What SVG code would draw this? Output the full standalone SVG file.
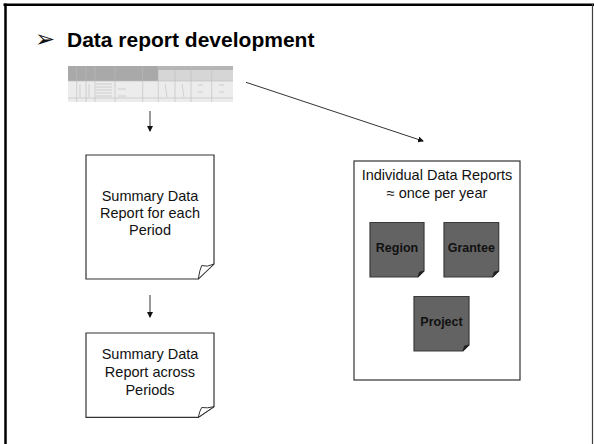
<svg xmlns="http://www.w3.org/2000/svg" width="594" height="444" viewBox="0 0 594 444">
<style>
.frame{stroke:#000;fill:none}
.doc{fill:#fff;stroke:#333;stroke-width:1.2}
.fold{fill:#fff;stroke:#333;stroke-width:1}
.lbl{font-family:"Liberation Sans",Arial,sans-serif;font-size:14.5px;fill:#111;text-anchor:middle}
.dk{fill:#636363;stroke:#3a3a3a;stroke-width:1.2}
.dkfold{fill:#222;stroke:#222;stroke-width:0.8}
.dlbl{font-family:"Liberation Sans",Arial,sans-serif;font-size:12.5px;font-weight:bold;fill:#111;text-anchor:middle}
.con{stroke:#333;stroke-width:1;fill:none;marker-end:url(#ah)}
.grid{stroke:#bdbdbd;stroke-width:0.6}
</style>
<defs>
<marker id="ah" markerWidth="6" markerHeight="6" refX="5" refY="3" orient="auto" markerUnits="userSpaceOnUse">
<path d="M0,0 L6,3 L0,6 Z" fill="#111"/>
</marker>
</defs>
<rect width="594" height="444" fill="#fff"/>
<g id="frame">
<line x1="3.5" y1="4.7" x2="594" y2="4.7" stroke="#000" stroke-width="2.5"/>
<line x1="5.5" y1="3.5" x2="5.5" y2="444" stroke="#000" stroke-width="2.5"/>
<line x1="592.5" y1="4" x2="592.5" y2="444" stroke="#404040" stroke-width="1.2"/>
</g>
<g id="title">
<text x="35" y="47" font-family="DejaVu Sans,sans-serif" font-size="24" fill="#111">➢</text>
<text x="67" y="47" font-family="Liberation Sans,Arial,sans-serif" font-size="21" font-weight="bold" fill="#000">Data report development</text>
</g>
<g id="spreadsheet">
<rect x="68" y="66" width="165" height="36" fill="#ececec"/>
<rect x="68" y="66" width="90" height="15" fill="#a9a9a9"/>
<rect x="158" y="66" width="75" height="15" fill="#d6d6d6"/>
<rect x="158" y="66" width="75" height="4" fill="#b5b5b5"/>
<g class="grid">
<line x1="76.7" y1="66" x2="76.7" y2="102"/>
<line x1="86" y1="66" x2="86" y2="102"/>
<line x1="95" y1="66" x2="95" y2="102"/>
<line x1="115" y1="66" x2="115" y2="102"/>
<line x1="142.7" y1="66" x2="142.7" y2="102"/>
<line x1="158.3" y1="66" x2="158.3" y2="102"/>
<line x1="175" y1="70" x2="175" y2="102"/>
<line x1="191" y1="66" x2="191" y2="102"/>
<line x1="211.7" y1="70" x2="211.7" y2="102"/>
<line x1="68" y1="81" x2="233" y2="81"/>
<line x1="68" y1="98" x2="233" y2="98"/>
</g>
<g stroke="#c8c8c8" stroke-width="0.8">
<line x1="96" y1="84" x2="112" y2="84"/><line x1="96" y1="87" x2="112" y2="87"/><line x1="96" y1="90" x2="112" y2="90"/><line x1="96" y1="93" x2="112" y2="93"/><line x1="96" y1="96" x2="112" y2="96"/>
<line x1="118" y1="89" x2="126" y2="89"/><line x1="118" y1="96" x2="126" y2="96"/>
<line x1="165" y1="84" x2="167" y2="97"/><line x1="182" y1="84" x2="184" y2="97"/>
<line x1="198" y1="85" x2="203" y2="85"/><line x1="198" y1="92" x2="203" y2="92"/>
<line x1="219" y1="85" x2="224" y2="85"/><line x1="219" y1="92" x2="224" y2="92"/>
<line x1="80" y1="84" x2="80" y2="97"/><line x1="89" y1="84" x2="89" y2="97"/>
</g>
</g>
<g id="connectors">
<line class="con" x1="150" y1="111" x2="150" y2="131"/>
<line class="con" x1="150" y1="295" x2="150" y2="317"/>
<line class="con" x1="246" y1="82.3" x2="423" y2="141"/>
</g>
<g id="summary-period">
<path class="doc" d="M86,155 H214 V264 L198.3,279 H86 Z"/>
<path class="fold" d="M198.3,279 Q199.5,270 201.7,265.5 Q207,267.5 214,264 Z"/>
<text class="lbl" x="150" y="201">Summary Data</text>
<text class="lbl" x="150" y="218">Report for each</text>
<text class="lbl" x="150" y="235">Period</text>
</g>
<g id="summary-across">
<path class="doc" d="M86,333 H214 V406.7 L198.3,417.3 H86 Z"/>
<path class="fold" d="M198.3,417.3 Q199.5,411 201.7,407.5 Q207,408.5 214,406.7 Z"/>
<text class="lbl" x="150" y="359">Summary Data</text>
<text class="lbl" x="150" y="377">Report across</text>
<text class="lbl" x="150" y="395">Periods</text>
</g>
<g id="individual">
<rect x="354" y="161" width="166" height="219" fill="#fff" stroke="#333" stroke-width="1.2"/>
<text class="lbl" x="437" y="180">Individual Data Reports</text>
<text class="lbl" x="437" y="198">≈ once per year</text>
</g>
<g id="region">
<path class="dk" d="M370,222.5 H424 V271 L418,277 H370 Z"/>
<path class="dkfold" d="M418,277 L419.5,272 L424,271 Z"/>
<text class="dlbl" x="397" y="252">Region</text>
</g>
<g id="grantee">
<path class="dk" d="M444,222.5 H498.7 V271 L492.7,277 H444 Z"/>
<path class="dkfold" d="M492.7,277 L494.2,272 L498.7,271 Z"/>
<text class="dlbl" x="471.3" y="252">Grantee</text>
</g>
<g id="project">
<path class="dk" d="M414,296.5 H469 V345 L463,351 H414 Z"/>
<path class="dkfold" d="M463,351 L464.5,346 L469,345 Z"/>
<text class="dlbl" x="441.5" y="326">Project</text>
</g>
</svg>
